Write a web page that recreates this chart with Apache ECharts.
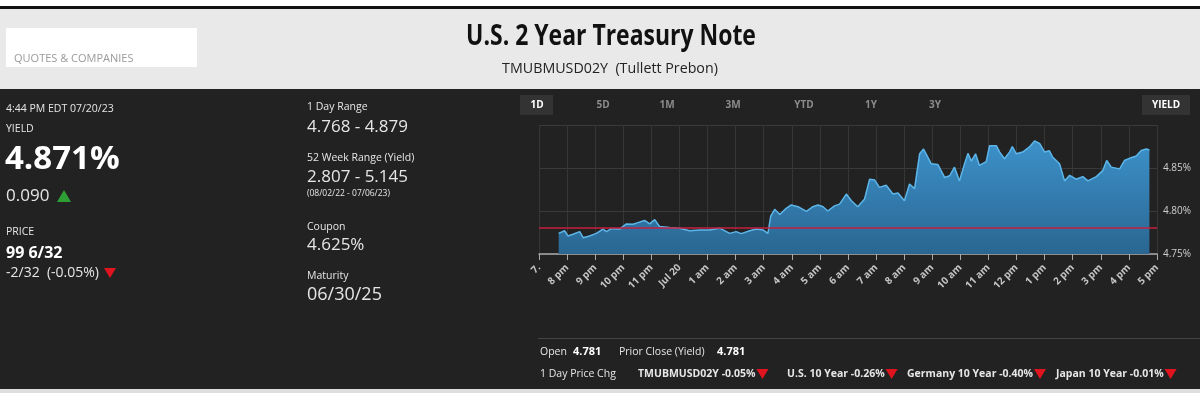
<!DOCTYPE html>
<html>
<head>
<meta charset="utf-8">
<title>U.S. 2 Year Treasury Note</title>
<script src="https://cdn.jsdelivr.net/npm/echarts@6/dist/echarts.min.js"></script>
<style>
  html, body { margin: 0; padding: 0; background: #fff; }
  #chart { width: 1200px; height: 393px; }
</style>
</head>
<body>
<div id="chart"></div>
<script>
// intraday yield, x = hours after 7 pm (Jul 19)
var times = [0.70, 0.91, 1.03, 1.21, 1.45, 1.57, 1.80, 2.04, 2.28, 2.40, 2.58, 2.87, 3.11, 3.35, 3.52, 3.76, 3.94, 4.12, 4.29, 4.65,
  5.01, 5.36, 5.72, 6.07, 6.43, 6.79, 7.02, 7.20, 7.50, 7.74, 7.97, 8.15, 8.25, 8.39, 8.57, 8.80, 8.98, 9.22, 9.52, 9.75,
  9.93, 10.11, 10.28, 10.52, 10.70, 10.94, 11.12, 11.35, 11.59, 11.77, 11.95, 12.12, 12.36, 12.60, 12.78, 13.01, 13.19, 13.37, 13.55, 13.69,
  13.84, 13.96, 14.20, 14.44, 14.62, 14.79, 14.97, 15.15, 15.27, 15.39, 15.54, 15.68, 15.92, 16.04, 16.28, 16.40, 16.57, 16.75, 16.85, 16.99,
  17.22, 17.46, 17.64, 17.82, 18.00, 18.17, 18.29, 18.53, 18.71, 18.89, 19.12, 19.36, 19.54, 19.84, 20.07, 20.21, 20.37, 20.67, 20.84, 21.08,
  21.26, 21.44, 21.62, 21.73];
var yields = [4.774, 4.777, 4.771, 4.773, 4.776, 4.769, 4.771, 4.774, 4.779, 4.776, 4.7795, 4.779, 4.785, 4.7845, 4.7865, 4.789, 4.785, 4.790, 4.782, 4.7807,
  4.780, 4.777, 4.778, 4.778, 4.780, 4.774, 4.776, 4.7737, 4.777, 4.779, 4.778, 4.774, 4.794, 4.802, 4.796, 4.803, 4.807, 4.805, 4.7995, 4.805,
  4.807, 4.805, 4.800, 4.806, 4.808, 4.8197, 4.812, 4.805, 4.814, 4.837, 4.836, 4.8275, 4.830, 4.8197, 4.821, 4.812, 4.8314, 4.826, 4.8665, 4.872,
  4.8627, 4.855, 4.854, 4.839, 4.841, 4.851, 4.835, 4.855, 4.867, 4.858, 4.8665, 4.853, 4.8575, 4.876, 4.876, 4.8685, 4.8607, 4.8685, 4.875, 4.8665,
  4.8685, 4.8745, 4.8815, 4.8785, 4.8685, 4.870, 4.8625, 4.855, 4.835, 4.8415, 4.837, 4.840, 4.835, 4.840, 4.847, 4.8587, 4.851, 4.849, 4.8587, 4.862,
  4.864, 4.8704, 4.872, 4.871];
var hourLabels = ['7.', '8 pm', '9 pm', '10 pm', '11 pm', 'Jul 20', '1 am', '2 am', '3 am', '4 am', '5 am', '6 am',
  '7 am', '8 am', '9 am', '10 am', '11 am', '12 pm', '1 pm', '2 pm', '3 pm', '4 pm', '5 pm'];
var priorClose = 4.781;

var tabs = ['5D', '1M', '3M', 'YTD', '1Y', '3Y'];
var tabX = [603, 667, 733, 804, 871, 935];
var changes = ['TMUBMUSD02Y -0.05%', 'U.S. 10 Year -0.26%', 'Germany 10 Year -0.40%', 'Japan 10 Year -0.01%'];
var changeX = [638, 787, 907, 1056];

var FONT = '"Open Sans", "Noto Sans", sans-serif';

var measureCtx = document.createElement('canvas').getContext('2d');
function textWidth(s, font) {
  measureCtx.font = font;
  return measureCtx.measureText(s).width;
}

function txt(s, x, y, size, color, weight, align, sx) {
  return {
    type: 'text', silent: true, x: x, y: y, scaleX: sx || 1,
    style: {
      text: s, x: 0, y: 0, fill: color || '#e6e6e6',
      font: (weight || 'normal') + ' ' + size + 'px ' + FONT,
      textAlign: align || 'left', textVerticalAlign: 'middle'
    }
  };
}
function tri(x, y, up, color) {
  var pts = up ? [[x, y + 6], [x + 7, y - 6], [x + 14, y + 6]] : [[x, y - 5], [x + 12, y - 5], [x + 6, y + 5]];
  return { type: 'polygon', silent: true, shape: { points: pts }, style: { fill: color } };
}

var graphics = [
  { type: 'rect', silent: true, z: -10, shape: { x: 0, y: 6, width: 1200, height: 3 }, style: { fill: '#111' } },
  { type: 'rect', silent: true, z: -10, shape: { x: 0, y: 9, width: 1200, height: 80 }, style: { fill: '#e9e9e9' } },
  { type: 'rect', silent: true, z: -10, shape: { x: 0, y: 89, width: 1200, height: 300 }, style: { fill: '#222222' } },
  { type: 'rect', silent: true, z: -10, shape: { x: 0, y: 389, width: 1200, height: 4 }, style: { fill: '#dedede' } },
  { type: 'rect', silent: true, shape: { x: 6, y: 28, width: 191, height: 39 }, style: { fill: '#fff' } },
  txt('QUOTES & COMPANIES', 14, 59, 11, '#9a9a9a'),
  txt('U.S. 2 Year Treasury Note', 611, 37, 28, '#111', 'bold', 'center', 0.82),
  txt('TMUBMUSD02Y  (Tullett Prebon)', 610, 69, 15, '#222', 'normal', 'center', 0.95),

  txt('4:44 PM EDT 07/20/23', 6, 109, 10.5),
  txt('YIELD', 6, 129, 10.5),
  txt('4.871%', 5, 160, 33, '#fff', 'bold'),
  txt('0.090', 6, 196, 17),
  tri(57, 196, true, '#2e9e35'),
  txt('PRICE', 6, 232, 10.5),
  txt('99 6/32', 6, 253, 16, '#fff', 'bold'),
  txt('-2/32  (-0.05%)', 6, 273, 14),
  tri(104, 273, false, '#e0141e'),

  txt('1 Day Range', 307, 107, 10.5),
  txt('4.768 - 4.879', 307, 127, 17),
  txt('52 Week Range (Yield)', 307, 158, 10.5),
  txt('2.807 - 5.145', 307, 177, 17),
  txt('(08/02/22 - 07/06/23)', 307, 194, 8.5),
  txt('Coupon', 307, 227, 10.5),
  txt('4.625%', 307, 245, 17),
  txt('Maturity', 307, 276, 10.5),
  txt('06/30/25', 307, 295, 18),

  { type: 'rect', silent: true, shape: { x: 520, y: 95, width: 33, height: 20 }, style: { fill: '#333' } },
  txt('1D', 537, 105, 10, '#fff', 'bold', 'center'),
  { type: 'rect', silent: true, shape: { x: 1142, y: 95, width: 48, height: 20 }, style: { fill: '#333' } },
  txt('YIELD', 1166, 105, 10, '#fff', 'bold', 'center'),

  { type: 'rect', silent: true, shape: { x: 538, y: 338, width: 662, height: 1 }, style: { fill: '#444' } },
  txt('Open', 540, 352, 10.5),
  txt('4.781', 573, 352, 11, '#fff', 'bold'),
  txt('Prior Close (Yield)', 619, 352, 10.5),
  txt('4.781', 717, 352, 11, '#fff', 'bold'),
  txt('1 Day Price Chg', 540, 374, 10.5)
];
tabs.forEach(function (t, i) {
  graphics.push(txt(t, tabX[i], 105, 10, '#8c8c8c', 'bold', 'center'));
});
changes.forEach(function (c, i) {
  var w = textWidth(c, 'bold 10.5px ' + FONT);
  graphics.push(txt(c, changeX[i], 374, 10.5, '#e6e6e6', 'bold'));
  graphics.push(tri(changeX[i] + w + 1, 374, false, '#e0141e'));
});

var chart = echarts.init(document.getElementById('chart'), null, { renderer: 'canvas' });
chart.setOption({
  backgroundColor: '#fff',
  animation: false,
  graphic: graphics,
  grid: { left: 539, right: 43, top: 125, bottom: 139 },
  xAxis: {
    type: 'value', min: 0, max: 22, interval: 1,
    axisLine: { lineStyle: { color: '#aaa', width: 1.5 } },
    axisTick: { show: true, length: 6, lineStyle: { color: '#aaa' } },
    splitLine: { show: true, lineStyle: { color: '#363636' } },
    axisLabel: {
      rotate: 45, margin: 12, color: '#c4c4c4', fontSize: 10, fontWeight: 'bold', fontFamily: FONT,
      formatter: function (v) { return hourLabels[Math.round(v)]; }
    }
  },
  yAxis: {
    type: 'value', position: 'right', min: 4.75, max: 4.90, interval: 0.05,
    axisLine: { show: false }, axisTick: { show: false },
    splitLine: { lineStyle: { color: '#3a3a3a' } },
    axisLabel: {
      showMaxLabel: false, margin: 6, color: '#cfcfcf', fontSize: 10, fontFamily: FONT,
      formatter: function (v) { return v.toFixed(2) + '%'; }
    }
  },
  series: [{
    type: 'line',
    data: times.map(function (t, i) { return [t, yields[i]]; }),
    symbol: 'none',
    lineStyle: { color: '#5cb6ea', width: 1.5 },
    areaStyle: {
      color: new echarts.graphic.LinearGradient(0, 0, 0, 1, [
        { offset: 0, color: '#3c91ca' },
        { offset: 1, color: '#2a6691' }
      ]),
      opacity: 1
    },
    markLine: {
      silent: true, symbol: 'none', label: { show: false },
      lineStyle: { color: '#c4213f', width: 1.5, type: 'solid' },
      data: [{ yAxis: priorClose }]
    }
  }]
});
</script>
</body>
</html>
